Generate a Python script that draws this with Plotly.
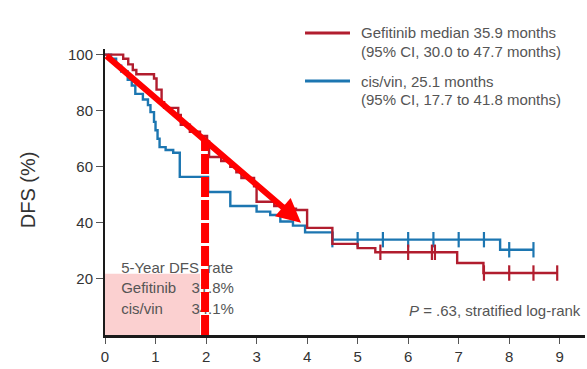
import numpy as np
import plotly.graph_objects as go

# Kaplan-Meier step data (years, DFS %)
gef_times = [0, 0.36, 0.46, 0.55, 0.62, 0.97, 1.02, 1.12, 1.17, 1.45, 1.50, 1.68, 1.88,
             2.02, 2.06, 2.30, 2.48, 2.60, 2.70, 2.95, 3.00, 3.35, 3.60, 3.78, 4.00,
             4.50, 5.00, 5.35, 6.97, 7.49]
gef_surv = [100, 98.5, 96.5, 94.5, 93, 91.5, 87.5, 83, 81, 78.5, 75, 72.5, 71,
            69, 63.5, 62, 60, 58, 56, 53, 47.5, 46, 45, 44.6, 38.2,
            32.5, 31, 29.5, 25.7, 22.1]
gef_end = 8.95
gef_censor = [5.45, 6.0, 6.47, 6.53, 7.5, 8.0, 8.48, 8.95]

cis_times = [0, 0.12, 0.22, 0.32, 0.45, 0.53, 0.60, 0.75, 0.85, 0.90, 0.97, 1.00, 1.04,
             1.08, 1.20, 1.35, 1.48, 2.04, 2.48, 3.00, 3.27, 3.47, 3.72, 3.96, 4.50, 7.82]
cis_surv = [100, 98.5, 96, 94, 91, 89, 86, 84, 82, 79.5, 76, 73, 70,
            67, 66, 65, 56.4, 51, 46, 44, 42.8, 40.5, 39, 36.6, 34, 30.4]
cis_end = 8.48
cis_censor = [4.5, 5.0, 5.5, 6.0, 6.5, 7.0, 7.5, 8.0, 8.48]

x_ticks = [0, 1, 2, 3, 4, 5, 6, 7, 8, 9]
y_ticks = [20, 40, 60, 80, 100]

legend_lines = [
    ("Gefitinib median 35.9 months", "(95% CI, 30.0 to 47.7 months)"),
    ("cis/vin, 25.1 months", "(95% CI, 17.7 to 41.8 months)"),
]
rate_title = "5-Year DFS  rate"
rate_arms = ["Gefitinib", "cis/vin"]
rate_values = ["31.8%", "34.1%"]
p_text = "<i>P</i> = .63, stratified log-rank"

# Highlight overlay: trend arrow, 2-year marker, shaded box
arrow_start = (0, 100)
arrow_end = (3.88, 40)
milestone_year = 1.98
shade_box = (0, 1.88, 0, 21.8)

RED = "#b11d2e"
BLUE = "#1c76b1"
HI = "#ff0000"
GREY = "#555555"
FONT = "Liberation Sans"


def step_value(times, surv, t):
    i = int(np.searchsorted(times, t, side="right")) - 1
    return surv[i]


fig = go.Figure()

# shaded box behind the 5-year summary
fig.add_shape(type="rect", xref="x", yref="y",
              x0=shade_box[0], x1=shade_box[1], y0=shade_box[2], y1=shade_box[3],
              fillcolor="#fbd0d0", line=dict(width=0), layer="below")

for times, surv, end, cens, col in [
    (cis_times, cis_surv, cis_end, cis_censor, BLUE),
    (gef_times, gef_surv, gef_end, gef_censor, RED),
]:
    xs = list(times) + [end]
    ys = list(surv) + [surv[-1]]
    fig.add_trace(go.Scatter(x=xs, y=ys, mode="lines", line=dict(color=col, width=2.4, shape="hv"),
                             hoverinfo="skip", showlegend=False))
    cy = [step_value(times, surv, t) for t in cens]
    fig.add_trace(go.Scatter(x=cens, y=cy, mode="markers",
                             marker=dict(symbol="line-ns", size=11, line=dict(color=col, width=2.2)),
                             hoverinfo="skip", showlegend=False))

# 5-year DFS rate summary (drawn before the marker line so the line sits on top)
text_font = dict(family=FONT, size=15, color=GREY)
fig.add_trace(go.Scatter(x=[0.32, 0.32, 0.32], y=[23.6, 16.4, 8.9], mode="text",
                         text=[rate_title] + rate_arms, textposition="middle right",
                         textfont=text_font, hoverinfo="skip", showlegend=False))
fig.add_trace(go.Scatter(x=[1.71, 1.71], y=[16.4, 8.9], mode="text",
                         text=rate_values, textposition="middle right",
                         textfont=text_font, hoverinfo="skip", showlegend=False))

# 2-year dashed marker up to the trend arrow
arrow_slope = (arrow_end[1] - arrow_start[1]) / (arrow_end[0] - arrow_start[0])
milestone_top = arrow_start[1] + arrow_slope * (milestone_year - arrow_start[0])
fig.add_trace(go.Scatter(x=[milestone_year, milestone_year], y=[0, milestone_top], mode="lines",
                         line=dict(color=HI, width=8, dash="20px,3px"),
                         hoverinfo="skip", showlegend=False))

# trend arrow
fig.add_annotation(x=arrow_end[0], y=arrow_end[1], ax=arrow_start[0], ay=arrow_start[1],
                   xref="x", yref="y", axref="x", ayref="y", text="", showarrow=True,
                   arrowhead=2, arrowsize=0.8, arrowwidth=6, arrowcolor=HI)

# p-value note
fig.add_annotation(x=9.46, y=8.9, xref="x", yref="y", text=p_text, showarrow=False,
                   xanchor="right", yanchor="middle", font=dict(family=FONT, size=15, color=GREY))

# legend block
legend_font = dict(family=FONT, size=15, color=GREY)
for (l1, l2), col, y1, y2 in [(legend_lines[0], RED, 1.056, 0.990),
                              (legend_lines[1], BLUE, 0.888, 0.822)]:
    fig.add_shape(type="line", xref="paper", yref="paper", x0=0.4167, x1=0.5104, y0=y1, y1=y1,
                  line=dict(color=col, width=3))
    fig.add_annotation(x=0.529, y=y1, xref="paper", yref="paper", text=l1, showarrow=False,
                       xanchor="left", yanchor="middle", font=legend_font)
    fig.add_annotation(x=0.529, y=y2, xref="paper", yref="paper", text=l2, showarrow=False,
                       xanchor="left", yanchor="middle", font=legend_font)

# y-axis title
fig.add_annotation(x=-0.160, y=0.507, xref="paper", yref="paper", text="DFS (%)", showarrow=False,
                   textangle=-90, xanchor="center", yanchor="middle",
                   font=dict(family=FONT, size=20, color="#333333"))

fig.update_layout(
    width=587, height=369,
    margin=dict(l=105, r=2, t=49, b=34),
    paper_bgcolor="white", plot_bgcolor="white",
    font=dict(family=FONT, color="#333333"),
    showlegend=False,
)
fig.update_xaxes(range=[0, 9.5], tickvals=x_ticks, ticktext=[str(v) for v in x_ticks],
                 showgrid=False, zeroline=False, showline=True, linecolor="#1a1a1a", linewidth=3,
                 ticks="outside", ticklen=6, tickcolor="#555555", tickwidth=1,
                 tickfont=dict(family=FONT, size=15, color="#333333"))
fig.update_yaxes(range=[0, 102], tickvals=y_ticks, ticktext=[str(v) for v in y_ticks],
                 showgrid=False, zeroline=False, showline=True, linecolor="#1a1a1a", linewidth=2,
                 ticks="outside", ticklen=7, tickcolor="#555555", tickwidth=1,
                 tickfont=dict(family=FONT, size=15, color="#333333"))

fig.write_html("out.html")
